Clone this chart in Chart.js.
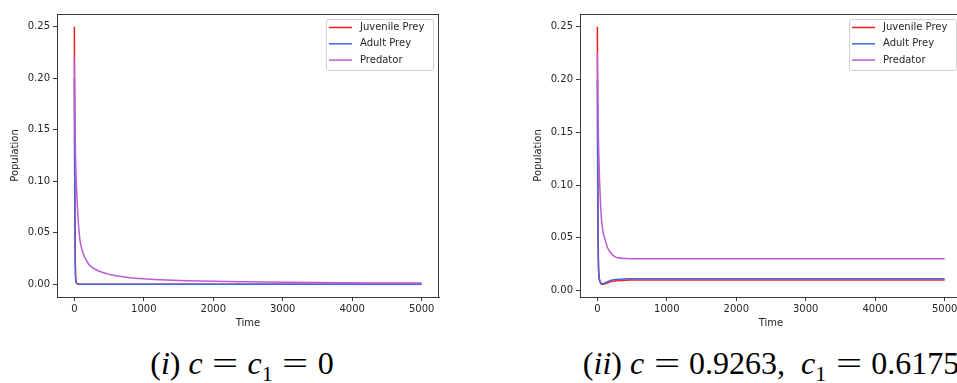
<!DOCTYPE html>
<html>
<head>
<meta charset="utf-8">
<script src="https://cdn.jsdelivr.net/npm/chart.js"></script>
<style>
  html, body { margin: 0; padding: 0; background: #fff; overflow: hidden; width: 957px; height: 383px; }
  .panel { position: absolute; top: 0; width: 480px; height: 340px; }
  #left-panel { left: 0; }
  #right-panel { left: 523px; }
  /* top and right spines of the plot area */
  .frame {
    position: absolute; left: 57px; top: 14px; width: 381px; height: 283px;
    border-top: 1px solid #3a3a3a; border-right: 1px solid #3a3a3a; pointer-events: none;
  }
  .caption {
    position: absolute; top: 347px; width: 600px; text-align: center;
    font-family: "Liberation Serif", "Times New Roman", serif; font-size: 32px; line-height: 32px; color: #000;
    white-space: nowrap;
  }
  .caption sub { font-size: 22px; vertical-align: -7px; line-height: 0; }
  .caption .eq { display: inline-block; transform: scaleX(1.45); margin: 0 0.42em; }
  #left-caption { left: -58px; }
  #right-caption { left: 471px; }
</style>
</head>
<body>
<div class="panel" id="left-panel"><canvas id="left-chart" width="480" height="340"></canvas><div class="frame"></div></div>
<div class="panel" id="right-panel"><canvas id="right-chart" width="480" height="340"></canvas><div class="frame"></div></div>
<div class="caption" id="left-caption">(<i>i</i>) <i>c</i><span class="eq">=</span><i>c</i><sub>1</sub><span class="eq">=</span>0</div>
<div class="caption" id="right-caption">(<i>ii</i>) <i>c</i><span class="eq">=</span>0.9263, &nbsp;<i>c</i><sub>1</sub><span class="eq">=</span>0.6175</div>

<script>
// Data
const seriesLabels = ['Juvenile Prey', 'Adult Prey', 'Predator'];
const seriesColors = ['#ff1a1a', '#4466e0', '#bb5ad6'];

const time = [0, 5, 10, 15, 20, 30, 40, 50, 60, 80, 100, 125, 150, 200, 250, 300, 400, 500, 600, 800,
  1000, 1250, 1500, 2000, 2500, 3000, 3500, 4000, 4500, 5000];

// (i) c = c1 = 0
const juvenileLeft = [0.25, 0.12, 0.04, 0.012, 0.004, 0.001, 0.0004, 0.0002, 0.0001, 0, 0, 0, 0, 0, 0, 0, 0, 0, 0, 0,
  0, 0, 0, 0, 0, 0, 0, 0, 0, 0];
const adultLeft = [0.2, 0.1, 0.04, 0.015, 0.005, 0.0012, 0.0004, 0.0002, 0.0001, 0, 0, 0, 0, 0, 0, 0, 0, 0, 0, 0,
  0, 0, 0, 0, 0, 0, 0, 0, 0, 0];
const predatorLeft = [0.22, 0.18, 0.152, 0.131, 0.115, 0.095, 0.081, 0.068, 0.057, 0.043, 0.036, 0.030, 0.026, 0.020,
  0.0165, 0.0145, 0.0115, 0.0095, 0.0082, 0.0063, 0.0052, 0.0043, 0.0036, 0.0027, 0.0022, 0.0018, 0.0015,
  0.0013, 0.0011, 0.001];

// (ii) c = 0.9263, c1 = 0.6175
const juvenileRight = [0.25, 0.13, 0.06, 0.03, 0.018, 0.010, 0.0078, 0.0066, 0.006, 0.0058, 0.006, 0.0066, 0.0073,
  0.0084, 0.009, 0.0094, 0.0098, 0.0099, 0.01, 0.01, 0.01, 0.01, 0.01, 0.01, 0.01, 0.01, 0.01, 0.01, 0.01, 0.01];
const adultRight = [0.2, 0.1, 0.045, 0.025, 0.016, 0.0105, 0.0085, 0.0072, 0.0066, 0.0064, 0.0068, 0.0076, 0.0084,
  0.0096, 0.0103, 0.0107, 0.011, 0.0111, 0.0112, 0.0112, 0.0112, 0.0112, 0.0112, 0.0112, 0.0112, 0.0112,
  0.0112, 0.0112, 0.0112, 0.0112];
const predatorRight = [0.225, 0.19, 0.165, 0.145, 0.13, 0.108, 0.09, 0.077, 0.067, 0.056, 0.051, 0.045, 0.040, 0.035,
  0.032, 0.031, 0.0303, 0.0301, 0.030, 0.030, 0.030, 0.030, 0.030, 0.030, 0.030, 0.030, 0.030, 0.030, 0.030, 0.030];

const xTicks = [0, 1000, 2000, 3000, 4000, 5000];
const yTicks = [0, 0.05, 0.10, 0.15, 0.20, 0.25];

const FONT = "'DejaVu Sans', sans-serif";
const TEXT_COLOR = '#262626';
const AXIS_COLOR = '#3a3a3a';

// matplotlib-style legend box in the upper right corner of the plot
const legendPlugin = {
  id: 'innerLegend',
  afterDraw(chart) {
    const { ctx, chartArea: a } = chart;
    const w = 107, h = 51;
    const x = a.right - 6 - w, y = a.top + 5;
    ctx.save();
    ctx.fillStyle = 'rgba(255,255,255,0.85)';
    ctx.strokeStyle = '#d0d0d0';
    ctx.lineWidth = 1;
    ctx.beginPath();
    ctx.roundRect(x + 0.5, y + 0.5, w, h, 2);
    ctx.fill();
    ctx.stroke();
    ctx.font = '10px ' + FONT;
    ctx.textBaseline = 'middle';
    chart.data.datasets.forEach((ds, i) => {
      const ry = y + 8.5 + i * 16.3;
      ctx.strokeStyle = ds.borderColor;
      ctx.lineWidth = 1.5;
      ctx.beginPath();
      ctx.moveTo(x + 3, ry);
      ctx.lineTo(x + 26, ry);
      ctx.stroke();
      ctx.fillStyle = TEXT_COLOR;
      ctx.fillText(ds.label, x + 34, ry);
    });
    ctx.restore();
  }
};

function makeChart(canvasId, series, yMin, yMax) {
  return new Chart(document.getElementById(canvasId), {
    type: 'line',
    data: {
      datasets: series.map((vals, i) => ({
        label: seriesLabels[i],
        data: time.map((t, j) => ({ x: t, y: vals[j] })),
        borderColor: seriesColors[i],
        borderWidth: 1.5,
        pointRadius: 0,
        cubicInterpolationMode: 'monotone',
        fill: false,
        clip: false,
        order: series.length - 1 - i // later series on top, like the original
      }))
    },
    options: {
      responsive: false,
      animation: false,
      events: [],
      layout: { padding: { left: 0, top: 14, right: 41, bottom: 7 } },
      plugins: { legend: { display: false }, tooltip: { enabled: false } },
      scales: {
        x: {
          type: 'linear',
          min: -250,
          max: 5250,
          afterBuildTicks: (s) => { s.ticks = xTicks.map(v => ({ value: v })); },
          afterFit: (s) => { s.height = 36; },
          grid: { drawOnChartArea: false, drawTicks: true, tickLength: 4, tickColor: AXIS_COLOR },
          border: { display: true, color: AXIS_COLOR },
          ticks: { color: TEXT_COLOR, font: { family: FONT, size: 10 }, padding: 2, maxRotation: 0,
            callback: (v) => String(v) },
          title: { display: true, text: 'Time', color: TEXT_COLOR, font: { family: FONT, size: 10 },
            padding: { top: 0, bottom: 4 } }
        },
        y: {
          min: yMin,
          max: yMax,
          afterBuildTicks: (s) => { s.ticks = yTicks.map(v => ({ value: v })); },
          afterFit: (s) => { s.width = 57; },
          grid: { drawOnChartArea: false, drawTicks: true, tickLength: 4, tickColor: AXIS_COLOR },
          border: { display: true, color: AXIS_COLOR },
          ticks: { color: TEXT_COLOR, font: { family: FONT, size: 10 }, padding: 3,
            callback: (v) => Number(v).toFixed(2) },
          title: { display: true, text: 'Population', color: TEXT_COLOR, font: { family: FONT, size: 10 },
            padding: { top: 9, bottom: 0 } }
        }
      }
    },
    plugins: [legendPlugin]
  });
}

makeChart('left-chart', [juvenileLeft, adultLeft, predatorLeft], -0.0125, 0.2625);
makeChart('right-chart', [juvenileRight, adultRight, predatorRight], -0.0062, 0.2622);
</script>
</body>
</html>
